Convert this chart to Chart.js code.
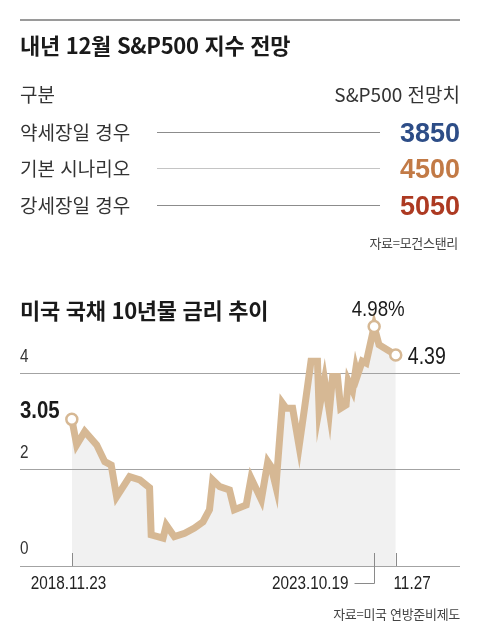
<!DOCTYPE html>
<html lang="ko">
<head>
<meta charset="utf-8">
<script src="https://cdn.jsdelivr.net/npm/chart.js@4.4.0/dist/chart.umd.min.js"></script>
<style>
  html, body { margin: 0; padding: 0; background: #fff; }
  body { width: 480px; height: 630px; position: relative; overflow: hidden;
         font-family: "Noto Sans CJK KR", "Noto Sans", sans-serif; color: #222; }
  .abs { position: absolute; white-space: nowrap; line-height: 1; }
  .rule { position: absolute; left: 20px; width: 440px; top: 19px; height: 2px; background: #9a9a9a; }
  .title { font-size: 22px; font-weight: 700; color: #1a1a1a; letter-spacing: -0.3px; }
  .row { font-size: 19px; color: #333; }
  .dash { position: absolute; left: 157px; width: 223px; height: 1px; background: #8c8c8c; }
  .val { font-family: "Liberation Sans", Arial, sans-serif; font-weight: 700; font-size: 27px; right: 20px; }
  .src { font-size: 13px; color: #444; right: 22px; letter-spacing: -0.3px; }
  #wrap { position: absolute; left: 0; top: 0; width: 480px; height: 630px; }
</style>
</head>
<body>
<div id="wrap"><canvas id="rates"></canvas></div>

<div class="rule"></div>
<div class="abs title" style="left:20px; top:33px;">내년 12월 S&amp;P500 지수 전망</div>
<div id="table"></div>
<div class="abs src" style="top:236px;">자료=모건스탠리</div>

<div class="abs title" style="left:20px; top:298px;">미국 국채 10년물 금리 추이</div>
<div class="abs src" style="top:607px; right:20px;">자료=미국 연방준비제도</div>

<script>
// S&P500 forecast table
const scenarioNames = ['약세장일 경우', '기본 시나리오', '강세장일 경우'];
const scenarioValues = [3850, 4500, 5050];
const scenarioColors = ['#2d4d87', '#c27a46', '#ad3a22'];
const headerLeft = '구분';
const headerRight = 'S&P500 전망치';

// 10-year treasury yield (x = months since 2018.11.23, approx.)
const yieldMonths = [0, 0.9, 2.4, 4.6, 6.1, 7.3, 8.3, 10.7, 12.6, 14.4, 14.7, 16.9, 17.5, 19.0, 20.9,
  22.7, 24.3, 25.5, 26.1, 27.4, 29.2, 30.1, 32.3, 33.2, 35.1, 36.3, 36.9, 37.8, 39.0, 39.7,
  40.9, 42.1, 43.1, 44.3, 45.5, 45.8, 46.8, 47.7, 48.3, 49.2, 49.8, 50.8, 51.2, 52.0, 52.6,
  52.9, 53.8, 54.5, 56.0, 56.9, 60];
const yieldValues = [3.05, 2.52, 2.80, 2.52, 2.17, 2.10, 1.44, 1.86, 1.79, 1.63, 0.65, 0.58, 0.85, 0.61, 0.68,
  0.79, 0.92, 1.17, 1.79, 1.65, 1.58, 1.17, 1.27, 1.83, 1.38, 2.17, 2.07, 1.65, 3.39, 3.28,
  3.28, 2.49, 3.28, 4.26, 4.26, 3.25, 3.88, 3.21, 3.94, 3.94, 3.28, 3.35, 3.85, 3.65, 4.10,
  3.96, 4.26, 4.22, 4.98, 4.60, 4.39];
const yTicks = [0, 2, 4];
const xTickValues = [0, 56.0, 60];
const xTickLabels = ['2018.11.23', '2023.10.19', '11.27'];
const markedIdx = [0, 48, 50];
const markedLabels = ['3.05', '4.98%', '4.39'];

// build table
const table = document.getElementById('table');
const rowTops = [122, 158, 195];
table.innerHTML =
  `<div class="abs row" style="left:20px; top:84px;">${headerLeft}</div>` +
  `<div class="abs row" style="right:20px; top:84px;">${headerRight.replace('&', '&amp;')}</div>`;
scenarioNames.forEach((name, i) => {
  const top = rowTops[i];
  table.innerHTML +=
    `<div class="abs row" style="left:20px; top:${top}px;">${name}</div>` +
    `<div class="dash" style="top:${top + 10}px; ${i === 1 ? 'background:#c4c4c4;' : ''}"></div>` +
    `<div class="abs val" style="top:${top - 2}px; color:${scenarioColors[i]};">${scenarioValues[i]}</div>`;
});

const NUMFONT = '"Liberation Sans", Arial, sans-serif';
const LINE = '#d6b894';

// condensed text: there is no narrow face installed, so squeeze horizontally
function narrowText(ctx, text, x, y, align, font) {
  ctx.save();
  ctx.font = font + ' ' + NUMFONT;
  ctx.textAlign = align;
  ctx.textBaseline = 'middle';
  ctx.translate(x, y);
  ctx.scale(0.85, 1);
  ctx.fillText(text, 0, 0);
  ctx.restore();
}

const labelPlugin = {
  id: 'labels',
  afterDraw(chart) {
    const ctx = chart.ctx;
    const xs = chart.scales.x, ys = chart.scales.y;
    const y0 = ys.getPixelForValue(0);
    ctx.save();
    // y tick labels above their gridlines
    ctx.fillStyle = '#333';
    yTicks.forEach(v => narrowText(ctx, String(v), chart.chartArea.left, ys.getPixelForValue(v) - 17, 'left', '18px'));

    // x ticks
    ctx.strokeStyle = '#8a8a8a';
    ctx.lineWidth = 1;
    ctx.fillStyle = '#222';
    xTickValues.forEach((v, i) => {
      const px = Math.round(xs.getPixelForValue(v)) + 0.5;
      ctx.beginPath();
      ctx.moveTo(px, y0 - 13);
      if (i === 1) {
        ctx.lineTo(px, y0 + 17.5);
        ctx.lineTo(px - 20, y0 + 17.5);
      } else {
        ctx.lineTo(px, y0);
      }
      ctx.stroke();
      if (i === 0) narrowText(ctx, xTickLabels[i], px - 4, y0 + 18, 'center', '18px');
      else if (i === 1) narrowText(ctx, xTickLabels[i], px - 26, y0 + 18, 'right', '18px');
      else narrowText(ctx, xTickLabels[i], px - 3, y0 + 18, 'left', '18px');
    });

    // value callouts
    ctx.fillStyle = '#1a1a1a';
    markedIdx.forEach((idx, i) => {
      const px = xs.getPixelForValue(yieldMonths[idx]);
      const py = ys.getPixelForValue(yieldValues[idx]);
      if (i === 0) narrowText(ctx, markedLabels[i], chart.chartArea.left, py - 8, 'left', 'bold 24px');
      else if (i === 1) narrowText(ctx, markedLabels[i], px + 4, py - 17, 'center', '22px');
      else narrowText(ctx, markedLabels[i], px + 12, py + 3, 'left', '23px');
    });
    ctx.restore();
  }
};

new Chart(document.getElementById('rates').getContext('2d'), {
  type: 'line',
  data: {
    datasets: [{
      data: yieldMonths.map((m, i) => ({ x: m, y: yieldValues[i] })),
      borderColor: LINE,
      borderWidth: 7,
      borderJoinStyle: 'miter',
      backgroundColor: '#f1f1f1',
      fill: 'origin',
      tension: 0,
      pointRadius: ctx => markedIdx.includes(ctx.dataIndex) ? 5.5 : 0,
      pointBorderWidth: 2.5,
      pointBorderColor: LINE,
      pointBackgroundColor: '#fff',
      clip: false,
    }]
  },
  options: {
    responsive: true,
    maintainAspectRatio: false,
    animation: false,
    events: [],
    layout: { padding: { left: 20, right: 20, top: 316, bottom: 64 } },
    scales: {
      x: { type: 'linear', min: -9.6, max: 71.9, display: false },
      y: {
        min: 0, max: 5.2,
        border: { display: false },
        grid: { color: '#a3a3a3', lineWidth: 1, drawTicks: false },
        ticks: { display: false, stepSize: 2, includeBounds: false }
      }
    },
    plugins: {
      legend: { display: false },
      tooltip: { enabled: false },
      filler: { drawTime: 'beforeDraw' }
    }
  },
  plugins: [labelPlugin]
});
</script>
</body>
</html>
